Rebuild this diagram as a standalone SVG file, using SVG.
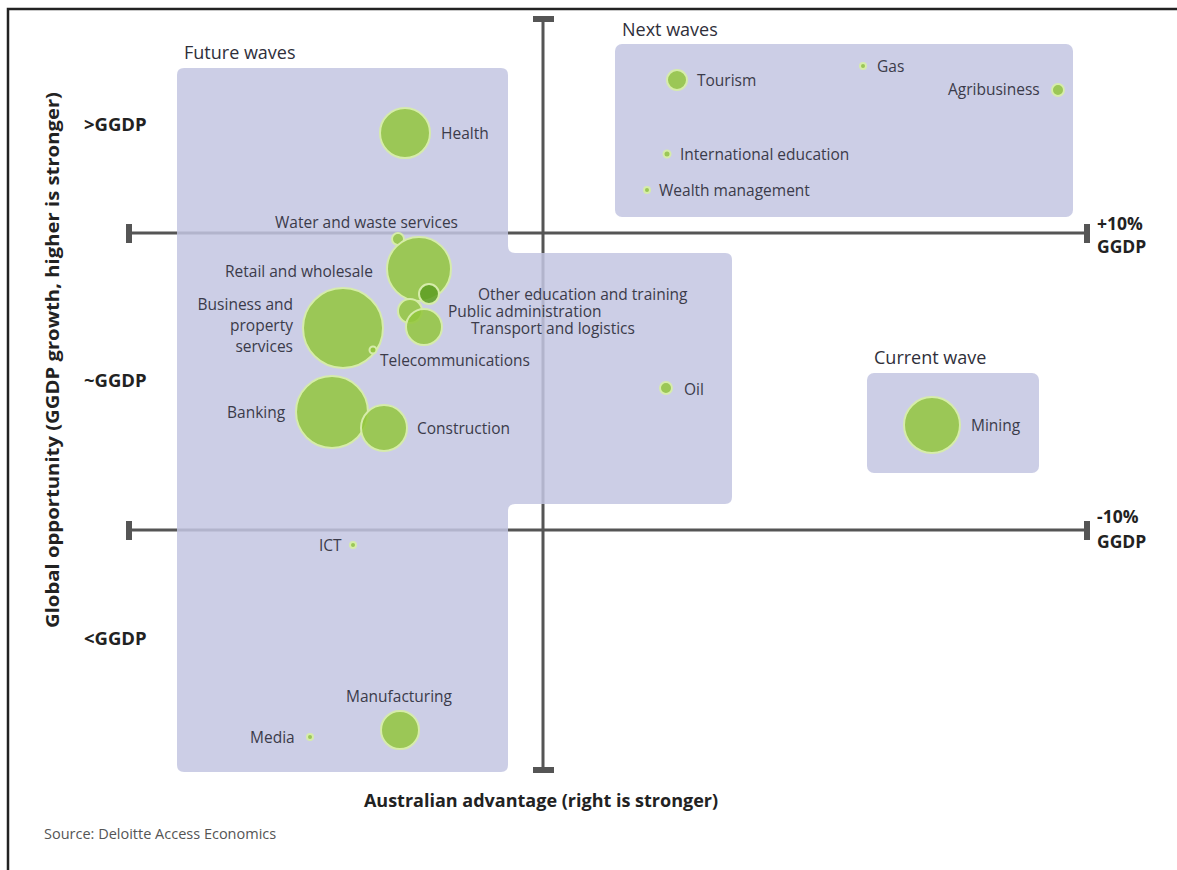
<svg xmlns="http://www.w3.org/2000/svg" width="1177" height="870" viewBox="0 0 1177 870">
<style>
.lbl{font-family:"Open Sans","Noto Sans",sans-serif;font-size:15.5px;fill:#3b3b4a}
.ttl{font-family:"Open Sans","Noto Sans",sans-serif;font-size:18px;fill:#2f2f3a}
.ax{font-family:"Open Sans","Noto Sans",sans-serif;font-size:18.5px;font-weight:bold;fill:#222}
.src{font-family:"Open Sans","Noto Sans",sans-serif;font-size:14.5px;fill:#555}
.reg{fill:#c3c6e2;fill-opacity:0.85}
.axis{stroke:#555;stroke-width:3;fill:none}
.cap{fill:#555}
.b{fill:#92c63c;fill-opacity:0.85;stroke:#d6ecaa;stroke-width:2}
</style>
<rect x="0" y="0" width="1177" height="870" fill="#fff"/>
<path d="M8,870 V9 H1177" fill="none" stroke="#222" stroke-width="2.5"/>

<g id="axes">
<line class="axis" x1="543" y1="19" x2="543" y2="770"/>
<rect class="cap" x="533" y="16" width="21" height="6"/>
<rect class="cap" x="533" y="767" width="21" height="6"/>
<line class="axis" x1="129" y1="233" x2="1087" y2="233"/>
<rect class="cap" x="126" y="224" width="6" height="19"/>
<rect class="cap" x="1084" y="224" width="6" height="19"/>
<line class="axis" x1="129" y1="530" x2="1087" y2="530"/>
<rect class="cap" x="126" y="521" width="6" height="19"/>
<rect class="cap" x="1084" y="521" width="6" height="19"/>
</g>

<g id="future-waves">
<path class="reg" d="M184,68 H501 Q508,68 508,75 V246 Q508,253 515,253 H725 Q732,253 732,260 V497 Q732,504 725,504 H515 Q508,504 508,511 V765 Q508,772 501,772 H184 Q177,772 177,765 V75 Q177,68 184,68 Z"/>
<text class="ttl" x="184" y="59">Future waves</text>
</g>
<g id="next-waves">
<rect class="reg" x="615" y="44" width="458" height="173" rx="7"/>
<text class="ttl" x="622" y="36">Next waves</text>
</g>
<g id="current-wave">
<rect class="reg" x="867" y="373" width="172" height="100" rx="7"/>
<text class="ttl" x="874" y="364">Current wave</text>
</g>

<g id="health"><circle class="b" cx="405" cy="133" r="25"/><text class="lbl" x="441" y="139">Health</text></g>
<g id="water"><circle class="b" cx="398" cy="239" r="6"/><text class="lbl" x="275" y="228">Water and waste services</text></g>
<g id="retail"><circle class="b" cx="419" cy="269" r="32"/><text class="lbl" x="225" y="277">Retail and wholesale</text></g>
<g id="business"><circle class="b" cx="343" cy="328" r="40"/><text class="lbl" text-anchor="end" x="293" y="310">Business and</text><text class="lbl" text-anchor="end" x="293" y="331">property</text><text class="lbl" text-anchor="end" x="293" y="352">services</text></g>
<g id="public-admin"><circle class="b" cx="410" cy="311" r="12"/><text class="lbl" x="448" y="317">Public administration</text></g>
<g id="transport"><circle class="b" cx="424" cy="327" r="18"/><text class="lbl" x="471" y="334">Transport and logistics</text></g>
<g id="other-education"><circle class="b" cx="429" cy="294" r="10" style="fill:#5d9e22"/><text class="lbl" x="478" y="300">Other education and training</text></g>
<g id="telecom"><circle class="b" cx="373" cy="350" r="3.5"/><text class="lbl" x="380" y="366">Telecommunications</text></g>
<g id="banking"><circle class="b" cx="332" cy="412" r="36"/><text class="lbl" x="227" y="418">Banking</text></g>
<g id="construction"><circle class="b" cx="384" cy="428" r="23"/><text class="lbl" x="417" y="434">Construction</text></g>
<g id="oil"><circle class="b" cx="666" cy="388" r="6"/><text class="lbl" x="684" y="395">Oil</text></g>
<g id="ict"><circle class="b" cx="353" cy="545" r="3"/><text class="lbl" x="319" y="551">ICT</text></g>
<g id="manufacturing"><circle class="b" cx="400" cy="730" r="19"/><text class="lbl" x="346" y="702">Manufacturing</text></g>
<g id="media"><circle class="b" cx="310" cy="737" r="3"/><text class="lbl" x="250" y="743">Media</text></g>
<g id="mining"><circle class="b" cx="932" cy="425" r="28"/><text class="lbl" x="971" y="431">Mining</text></g>
<g id="tourism"><circle class="b" cx="677" cy="80" r="10"/><text class="lbl" x="697" y="86">Tourism</text></g>
<g id="gas"><circle class="b" cx="863" cy="66" r="3"/><text class="lbl" x="877" y="72">Gas</text></g>
<g id="agribusiness"><circle class="b" cx="1058" cy="90" r="6"/><text class="lbl" x="948" y="95">Agribusiness</text></g>
<g id="intl-education"><circle class="b" cx="667" cy="154" r="3.5"/><text class="lbl" x="680" y="160">International education</text></g>
<g id="wealth"><circle class="b" cx="647" cy="190" r="3"/><text class="lbl" x="659" y="196">Wealth management</text></g>

<g id="axis-labels">
<text class="ax" x="84" y="131">&gt;GGDP</text>
<text class="ax" x="84" y="387">~GGDP</text>
<text class="ax" x="84" y="645">&lt;GGDP</text>
<text class="ax" x="1097" y="230" style="font-size:17.5px">+10%</text>
<text class="ax" x="1097" y="253" style="font-size:17.5px">GGDP</text>
<text class="ax" x="1097" y="523" style="font-size:17.5px">-10%</text>
<text class="ax" x="1097" y="548" style="font-size:17.5px">GGDP</text>
<text class="ax" x="541" y="807" text-anchor="middle" style="font-size:18px">Australian advantage (right is stronger)</text>
<text class="ax" transform="translate(59,360) rotate(-90)" text-anchor="middle" textLength="536" lengthAdjust="spacingAndGlyphs" style="font-size:18px">Global opportunity (GGDP growth, higher is stronger)</text>
</g>
<text class="src" x="44" y="839">Source: Deloitte Access Economics</text>
</svg>
